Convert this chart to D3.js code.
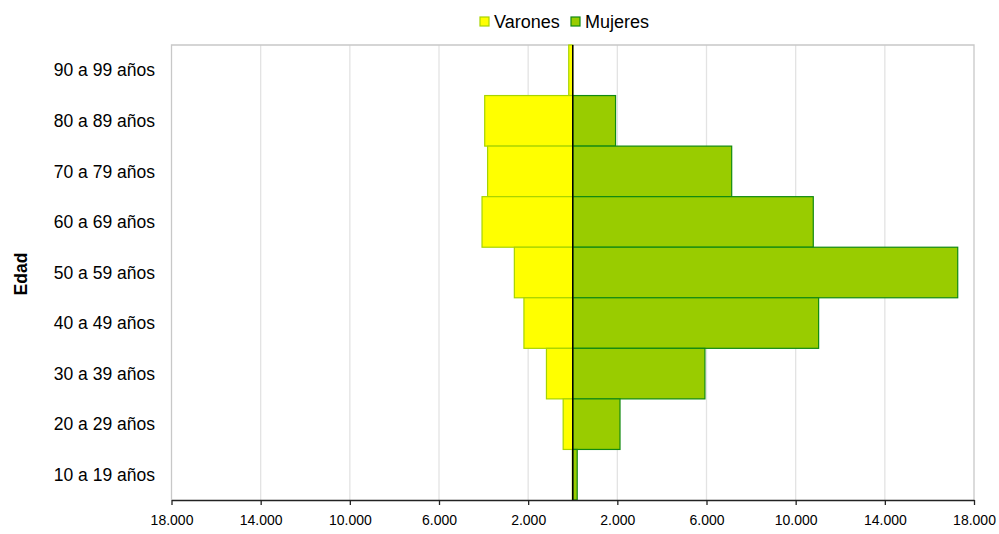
<!DOCTYPE html>
<html><head><meta charset="utf-8">
<script src="https://cdn.jsdelivr.net/npm/d3@7"></script>
<style>body{margin:0;background:#fff}svg{display:block;font-family:"Liberation Sans",Arial,sans-serif}</style>
</head><body>
<svg id="c" width="999" height="534"></svg>
<script>
const categories = ["90 a 99 años","80 a 89 años","70 a 79 años","60 a 69 años","50 a 59 años","40 a 49 años","30 a 39 años","20 a 29 años","10 a 19 años"];
const varones = [180, 3950, 3820, 4070, 2620, 2190, 1180, 430, 20];
const mujeres = [0, 1920, 7130, 10790, 17270, 11030, 5930, 2120, 200];
const tickValues = [-18000,-14000,-10000,-6000,-2000,2000,6000,10000,14000,18000];
const seriesNames = ["Varones","Mujeres"];

const svg = d3.select("#c");
const m = {left:171.5, right:974, top:45, bottom:500};
const x = d3.scaleLinear().domain([-18000,18000]).range([m.left, m.right]);
const y = d3.scaleBand().domain(categories).range([m.top, m.bottom]).padding(0);
const fmt = v => d3.format(",")(Math.abs(v)).replace(/,/g, ".");

// gridlines
svg.append("g").selectAll("line").data(tickValues.slice(1,-1)).join("line")
  .attr("x1", d=>x(d)).attr("x2", d=>x(d)).attr("y1", m.top).attr("y2", m.bottom)
  .attr("stroke", "#e3e3e3").attr("stroke-width", 1.3);

// plot border (top, left, right)
svg.append("path")
  .attr("d", `M${m.left},${m.bottom}V${m.top}H${m.right}V${m.bottom}`)
  .attr("fill","none").attr("stroke","#c8c8c8").attr("stroke-width",1.3);

// bars
svg.append("g").selectAll("rect").data(categories).join("rect")
  .attr("x", (d,i)=>x(-varones[i])).attr("width", (d,i)=>x(0)-x(-varones[i]))
  .attr("y", d=>y(d)).attr("height", y.bandwidth())
  .attr("fill","#ffff00").attr("stroke","#a8d400").attr("stroke-width",1.2);
svg.append("g").selectAll("rect").data(categories).join("rect")
  .attr("x", x(0)).attr("width", (d,i)=>x(mujeres[i])-x(0))
  .attr("y", d=>y(d)).attr("height", y.bandwidth())
  .attr("fill","#99cc00").attr("stroke","#118a11").attr("stroke-width",1.2);

// zero line
svg.append("line").attr("x1", x(0)).attr("x2", x(0)).attr("y1", m.top).attr("y2", m.bottom)
  .attr("stroke","#000").attr("stroke-width",1.5);

// x axis
const xa = svg.append("g").attr("transform",`translate(0,${m.bottom})`)
  .call(d3.axisBottom(x).tickValues(tickValues).tickFormat(fmt).tickSize(5).tickSizeOuter(0));
xa.select(".domain").attr("stroke","#222").attr("stroke-width",1.3);
xa.selectAll(".tick line").attr("stroke","#222").attr("stroke-width",1.3);
xa.selectAll(".tick text").attr("font-size",14).attr("fill","#000").attr("y",15).attr("dy","0.71em")
  .style("font-family","'Liberation Sans',Arial,sans-serif");

// y labels
svg.append("g").selectAll("text").data(categories).join("text")
  .attr("x", 155).attr("y", d=>y(d)+y.bandwidth()/2).attr("dy","0.35em")
  .attr("text-anchor","end").attr("font-size",17.5).attr("fill","#000").text(d=>d);

// y title
svg.append("text").attr("transform","translate(27,274) rotate(-90)")
  .attr("text-anchor","middle").attr("font-size",17.5).attr("font-weight","bold").text("Edad");

// legend
const lg = svg.append("g");
const legendX = [480, 571];
const legendFill = ["#ffff00","#99cc00"], legendStroke = ["#a8d400","#118a11"];
seriesNames.forEach((s,i)=>{
  lg.append("rect").attr("x",legendX[i]).attr("y",17).attr("width",9).attr("height",9)
    .attr("fill",legendFill[i]).attr("stroke",legendStroke[i]).attr("stroke-width",1.2);
  lg.append("text").attr("x",legendX[i]+14).attr("y",28)
    .attr("font-size",18).text(s);
});
</script>
</body></html>
